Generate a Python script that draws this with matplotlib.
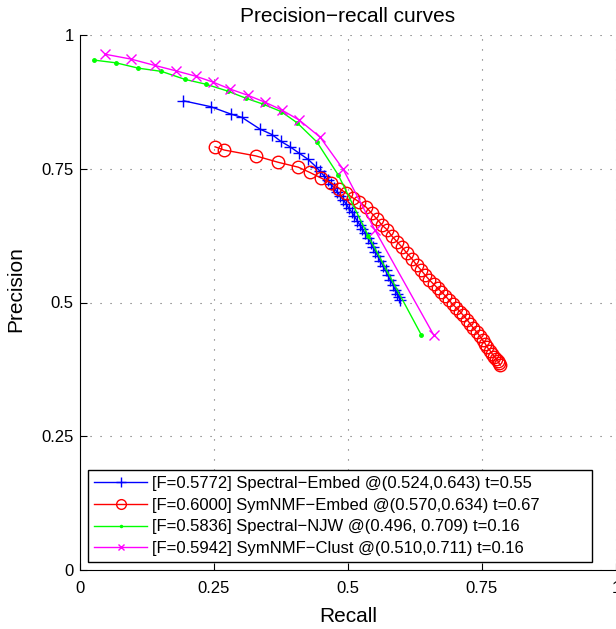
import numpy as np
import matplotlib
matplotlib.use('Agg')
import matplotlib.pyplot as plt

plt.rcParams['font.family'] = ['Liberation Sans', 'DejaVu Sans']

# Spectral-Embed (blue, +)
se_recall = [0.193, 0.244, 0.282, 0.302, 0.336, 0.358, 0.375, 0.392, 0.409, 0.425,
             0.440, 0.448, 0.455, 0.462, 0.468, 0.474, 0.480, 0.486, 0.491, 0.496,
             0.501, 0.507, 0.512, 0.517, 0.522, 0.527, 0.532, 0.537, 0.542, 0.547,
             0.551, 0.556, 0.560, 0.565, 0.570, 0.574, 0.579, 0.584, 0.588, 0.592,
             0.595, 0.597]
se_prec = [0.877, 0.866, 0.852, 0.846, 0.824, 0.814, 0.801, 0.791, 0.779, 0.768,
           0.754, 0.745, 0.737, 0.729, 0.721, 0.714, 0.706, 0.699, 0.692, 0.685,
           0.677, 0.669, 0.661, 0.653, 0.645, 0.637, 0.629, 0.621, 0.612, 0.604,
           0.595, 0.586, 0.578, 0.569, 0.560, 0.551, 0.542, 0.533, 0.524, 0.516,
           0.510, 0.505]

# SymNMF-Embed (red, o)
sm_recall = [0.252, 0.269, 0.328, 0.370, 0.407, 0.429, 0.449, 0.468, 0.484, 0.497,
             0.510, 0.521, 0.534, 0.544, 0.554, 0.563, 0.573, 0.582, 0.592, 0.601,
             0.610, 0.619, 0.628, 0.636, 0.644, 0.652, 0.660, 0.667, 0.674, 0.681,
             0.688, 0.695, 0.702, 0.709, 0.715, 0.722, 0.728, 0.734, 0.740, 0.746,
             0.751, 0.756, 0.760, 0.765, 0.769, 0.773, 0.777, 0.780, 0.782, 0.784]
sm_prec = [0.791, 0.785, 0.774, 0.762, 0.753, 0.743, 0.733, 0.724, 0.713, 0.704,
           0.695, 0.688, 0.678, 0.667, 0.656, 0.645, 0.636, 0.624, 0.613, 0.603,
           0.592, 0.582, 0.570, 0.561, 0.551, 0.542, 0.534, 0.527, 0.520, 0.513,
           0.505, 0.497, 0.490, 0.483, 0.476, 0.468, 0.460, 0.452, 0.445, 0.437,
           0.430, 0.423, 0.416, 0.410, 0.404, 0.399, 0.394, 0.390, 0.386, 0.383]

# Spectral-NJW (green, .)
nj_recall = [0.027, 0.067, 0.109, 0.152, 0.196, 0.235, 0.276, 0.309, 0.341, 0.375,
             0.405, 0.442, 0.482, 0.538, 0.637]
nj_prec = [0.953, 0.948, 0.938, 0.932, 0.917, 0.908, 0.895, 0.882, 0.871, 0.857,
           0.836, 0.800, 0.738, 0.624, 0.439]

# SymNMF-Clust (magenta, x)
sc_recall = [0.047, 0.095, 0.140, 0.179, 0.216, 0.248, 0.280, 0.314, 0.346, 0.376,
             0.409, 0.448, 0.491, 0.550, 0.660]
sc_prec = [0.964, 0.955, 0.943, 0.933, 0.923, 0.912, 0.899, 0.887, 0.874, 0.860,
           0.841, 0.809, 0.749, 0.636, 0.439]

labels = ['[F=0.5772] Spectral\u2212Embed @(0.524,0.643) t=0.55',
          '[F=0.6000] SymNMF\u2212Embed @(0.570,0.634) t=0.67',
          '[F=0.5836] Spectral\u2212NJW @(0.496, 0.709) t=0.16',
          '[F=0.5942] SymNMF\u2212Clust @(0.510,0.711) t=0.16']
ticks = [0, 0.25, 0.5, 0.75, 1]
tick_labels = ['0', '0.25', '0.5', '0.75', '1']

fig = plt.figure(figsize=(6.16, 6.29), dpi=100)
ax = fig.add_axes([80 / 616, 59 / 629, 536 / 616, 535 / 629])

ax.plot(se_recall, se_prec, color='blue', marker='+', ms=9, mew=1, lw=1, label=labels[0])
ax.plot(sm_recall, sm_prec, color='red', marker='o', ms=9, mfc='none', mew=1, lw=1, label=labels[1])
ax.plot(nj_recall, nj_prec, color='#00ff00', marker='.', ms=5, lw=1, label=labels[2])
ax.plot(sc_recall, sc_prec, color='magenta', marker='x', ms=7, mew=1, lw=1, label=labels[3])

ax.set_xlim(0, 1)
ax.set_ylim(0, 1)
ax.set_xticks(ticks)
ax.set_xticklabels(tick_labels)
ax.set_yticks(ticks)
ax.set_yticklabels(tick_labels)
ax.tick_params(direction='in', length=5, labelsize=12)
ax.tick_params(axis='x', pad=8)
ax.tick_params(axis='y', pad=4.5)
ax.grid(True, linestyle=(0, (1, 8)), color='#666666', linewidth=0.8)
ax.spines['top'].set_visible(False)
ax.spines['right'].set_visible(False)

ax.set_xlabel('Recall', fontsize=15, labelpad=8)
ax.set_ylabel('Precision', fontsize=15)
ax.yaxis.set_label_coords(-0.103, 0.525)
ax.set_title('Precision\u2212recall curves', fontsize=15, pad=9)

leg = ax.legend(loc='lower left', bbox_to_anchor=(0.015, 0.015, 0.94, 0.2), mode='expand',
                borderaxespad=0, fontsize=12, fancybox=False, edgecolor='black',
                framealpha=1, handlelength=3.2, borderpad=0.35, labelspacing=0.4,
                handletextpad=0.3)
leg.get_frame().set_linewidth(1)
for h, s in zip(leg.legend_handles, [7, 7, 3, 5]):
    h.set_markersize(s)

fig.savefig('out.png', dpi=100)
